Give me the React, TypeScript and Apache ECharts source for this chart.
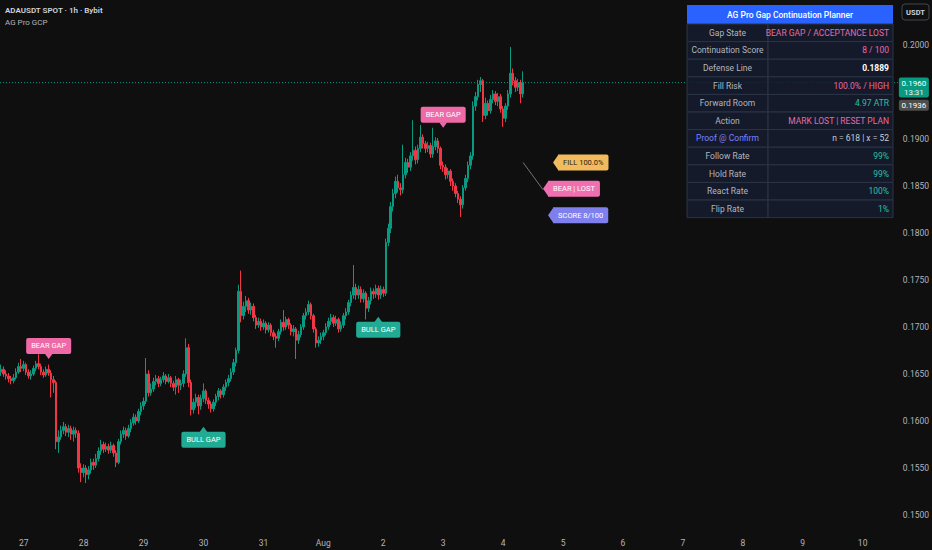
import React, { useEffect, useRef } from 'react';
import * as echarts from 'echarts';

// ---------------- data ----------------
// hourly candles [open, close, low, high], ADAUSDT 1h
const candles: number[][] = [
  [0.1652, 0.1655, 0.1648, 0.1660], [0.1655, 0.1650, 0.1647, 0.1658], [0.1650, 0.1648, 0.1644, 0.1654], [0.1648, 0.1645, 0.1641, 0.1651], [0.1645, 0.1643, 0.1639, 0.1648],
  [0.1643, 0.1646, 0.1640, 0.1650], [0.1646, 0.1652, 0.1644, 0.1656], [0.1652, 0.1658, 0.1650, 0.1662], [0.1658, 0.1656, 0.1652, 0.1666], [0.1656, 0.1660, 0.1653, 0.1664],
  [0.1660, 0.1652, 0.1649, 0.1662], [0.1652, 0.1648, 0.1645, 0.1655], [0.1648, 0.1650, 0.1644, 0.1654], [0.1650, 0.1656, 0.1648, 0.1659], [0.1656, 0.1661, 0.1653, 0.1664],
  [0.1661, 0.1658, 0.1655, 0.1671], [0.1658, 0.1652, 0.1649, 0.1661], [0.1652, 0.1649, 0.1646, 0.1655], [0.1649, 0.1655, 0.1647, 0.1658], [0.1655, 0.1651, 0.1648, 0.1660],
  [0.1651, 0.1644, 0.1625, 0.1654], [0.1644, 0.1641, 0.1630, 0.1648], [0.1641, 0.1578, 0.1570, 0.1643], [0.1578, 0.1583, 0.1566, 0.1590], [0.1583, 0.1590, 0.1580, 0.1595],
  [0.1590, 0.1594, 0.1586, 0.1599], [0.1594, 0.1588, 0.1584, 0.1597], [0.1588, 0.1592, 0.1583, 0.1596], [0.1592, 0.1586, 0.1580, 0.1595], [0.1586, 0.1590, 0.1578, 0.1594],
  [0.1590, 0.1587, 0.1582, 0.1593], [0.1587, 0.1550, 0.1545, 0.1590], [0.1550, 0.1545, 0.1535, 0.1555], [0.1545, 0.1550, 0.1540, 0.1554], [0.1550, 0.1543, 0.1534, 0.1553],
  [0.1543, 0.1548, 0.1538, 0.1552], [0.1548, 0.1556, 0.1544, 0.1560], [0.1556, 0.1553, 0.1548, 0.1560], [0.1553, 0.1560, 0.1550, 0.1565], [0.1560, 0.1568, 0.1557, 0.1572],
  [0.1568, 0.1575, 0.1564, 0.1580], [0.1575, 0.1570, 0.1566, 0.1578], [0.1570, 0.1573, 0.1567, 0.1577], [0.1573, 0.1569, 0.1565, 0.1576], [0.1569, 0.1574, 0.1566, 0.1578],
  [0.1574, 0.1566, 0.1562, 0.1576], [0.1566, 0.1556, 0.1551, 0.1569], [0.1556, 0.1578, 0.1554, 0.1581], [0.1578, 0.1586, 0.1575, 0.1590], [0.1586, 0.1590, 0.1582, 0.1594],
  [0.1590, 0.1584, 0.1580, 0.1593], [0.1584, 0.1592, 0.1582, 0.1596], [0.1592, 0.1598, 0.1588, 0.1602], [0.1598, 0.1604, 0.1595, 0.1608], [0.1604, 0.1600, 0.1596, 0.1607],
  [0.1600, 0.1610, 0.1598, 0.1613], [0.1610, 0.1616, 0.1606, 0.1620], [0.1616, 0.1621, 0.1612, 0.1625], [0.1621, 0.1650, 0.1618, 0.1667], [0.1650, 0.1630, 0.1626, 0.1654],
  [0.1630, 0.1634, 0.1627, 0.1640], [0.1634, 0.1642, 0.1631, 0.1646], [0.1642, 0.1645, 0.1638, 0.1649], [0.1645, 0.1640, 0.1636, 0.1648], [0.1640, 0.1644, 0.1637, 0.1647],
  [0.1644, 0.1648, 0.1641, 0.1652], [0.1648, 0.1642, 0.1639, 0.1650], [0.1642, 0.1646, 0.1640, 0.1650], [0.1646, 0.1640, 0.1636, 0.1648], [0.1640, 0.1636, 0.1632, 0.1643],
  [0.1636, 0.1644, 0.1628, 0.1648], [0.1644, 0.1638, 0.1630, 0.1646], [0.1638, 0.1640, 0.1633, 0.1644], [0.1640, 0.1650, 0.1636, 0.1654], [0.1650, 0.1678, 0.1647, 0.1688],
  [0.1678, 0.1641, 0.1636, 0.1682], [0.1641, 0.1612, 0.1606, 0.1644], [0.1612, 0.1620, 0.1608, 0.1624], [0.1620, 0.1625, 0.1614, 0.1629], [0.1625, 0.1616, 0.1607, 0.1628],
  [0.1616, 0.1624, 0.1612, 0.1628], [0.1624, 0.1632, 0.1620, 0.1640], [0.1632, 0.1622, 0.1618, 0.1634], [0.1622, 0.1618, 0.1613, 0.1625], [0.1618, 0.1613, 0.1609, 0.1621],
  [0.1613, 0.1620, 0.1610, 0.1623], [0.1620, 0.1626, 0.1616, 0.1629], [0.1626, 0.1632, 0.1622, 0.1635], [0.1632, 0.1628, 0.1624, 0.1634], [0.1628, 0.1636, 0.1625, 0.1639],
  [0.1636, 0.1641, 0.1632, 0.1644], [0.1641, 0.1645, 0.1637, 0.1649], [0.1645, 0.1652, 0.1642, 0.1656], [0.1652, 0.1662, 0.1649, 0.1666], [0.1662, 0.1675, 0.1658, 0.1678],
  [0.1675, 0.1738, 0.1672, 0.1745], [0.1738, 0.1712, 0.1705, 0.1760], [0.1712, 0.1722, 0.1708, 0.1727], [0.1722, 0.1728, 0.1716, 0.1733], [0.1728, 0.1718, 0.1714, 0.1731],
  [0.1718, 0.1722, 0.1713, 0.1726], [0.1722, 0.1710, 0.1706, 0.1725], [0.1710, 0.1702, 0.1698, 0.1713], [0.1702, 0.1706, 0.1699, 0.1710], [0.1706, 0.1700, 0.1696, 0.1709],
  [0.1700, 0.1704, 0.1697, 0.1708], [0.1704, 0.1697, 0.1693, 0.1706], [0.1697, 0.1702, 0.1694, 0.1705], [0.1702, 0.1694, 0.1690, 0.1704], [0.1694, 0.1690, 0.1686, 0.1697],
  [0.1690, 0.1688, 0.1678, 0.1693], [0.1688, 0.1695, 0.1685, 0.1698], [0.1695, 0.1705, 0.1692, 0.1708], [0.1705, 0.1700, 0.1696, 0.1718], [0.1700, 0.1708, 0.1697, 0.1711],
  [0.1708, 0.1702, 0.1698, 0.1710], [0.1702, 0.1695, 0.1691, 0.1704], [0.1695, 0.1698, 0.1690, 0.1702], [0.1698, 0.1686, 0.1666, 0.1700], [0.1686, 0.1692, 0.1682, 0.1696],
  [0.1692, 0.1700, 0.1689, 0.1703], [0.1700, 0.1712, 0.1697, 0.1715], [0.1712, 0.1716, 0.1708, 0.1720], [0.1716, 0.1724, 0.1713, 0.1728], [0.1724, 0.1712, 0.1708, 0.1726],
  [0.1712, 0.1698, 0.1694, 0.1714], [0.1698, 0.1683, 0.1678, 0.1700], [0.1683, 0.1686, 0.1679, 0.1690], [0.1686, 0.1690, 0.1682, 0.1694], [0.1690, 0.1694, 0.1686, 0.1697],
  [0.1694, 0.1700, 0.1691, 0.1704], [0.1700, 0.1706, 0.1697, 0.1710], [0.1706, 0.1710, 0.1702, 0.1714], [0.1710, 0.1704, 0.1700, 0.1713], [0.1704, 0.1708, 0.1701, 0.1712],
  [0.1708, 0.1698, 0.1694, 0.1710], [0.1698, 0.1702, 0.1695, 0.1706], [0.1702, 0.1712, 0.1699, 0.1715], [0.1712, 0.1716, 0.1708, 0.1720], [0.1716, 0.1726, 0.1713, 0.1729],
  [0.1726, 0.1734, 0.1722, 0.1738], [0.1734, 0.1742, 0.1730, 0.1766], [0.1742, 0.1734, 0.1729, 0.1746], [0.1734, 0.1740, 0.1730, 0.1744], [0.1740, 0.1730, 0.1726, 0.1743],
  [0.1730, 0.1736, 0.1726, 0.1740], [0.1736, 0.1720, 0.1708, 0.1738], [0.1720, 0.1728, 0.1716, 0.1732], [0.1728, 0.1738, 0.1724, 0.1742], [0.1738, 0.1735, 0.1730, 0.1741],
  [0.1735, 0.1741, 0.1731, 0.1745], [0.1741, 0.1734, 0.1729, 0.1744], [0.1734, 0.1740, 0.1730, 0.1744], [0.1740, 0.1736, 0.1732, 0.1743], [0.1736, 0.1790, 0.1733, 0.1794],
  [0.1790, 0.1805, 0.1786, 0.1810], [0.1805, 0.1828, 0.1800, 0.1833], [0.1828, 0.1842, 0.1823, 0.1847], [0.1842, 0.1855, 0.1837, 0.1860], [0.1855, 0.1848, 0.1843, 0.1862],
  [0.1848, 0.1846, 0.1840, 0.1853], [0.1846, 0.1862, 0.1842, 0.1894], [0.1862, 0.1875, 0.1858, 0.1880], [0.1875, 0.1870, 0.1864, 0.1879], [0.1870, 0.1882, 0.1866, 0.1886],
  [0.1882, 0.1888, 0.1877, 0.1920], [0.1888, 0.1878, 0.1873, 0.1892], [0.1878, 0.1890, 0.1874, 0.1894], [0.1890, 0.1902, 0.1886, 0.1915], [0.1902, 0.1895, 0.1890, 0.1905],
  [0.1895, 0.1890, 0.1885, 0.1898], [0.1890, 0.1893, 0.1886, 0.1897], [0.1893, 0.1884, 0.1880, 0.1896], [0.1884, 0.1892, 0.1880, 0.1912], [0.1892, 0.1898, 0.1888, 0.1902],
  [0.1898, 0.1890, 0.1885, 0.1901], [0.1890, 0.1872, 0.1868, 0.1892], [0.1872, 0.1870, 0.1865, 0.1876], [0.1870, 0.1862, 0.1857, 0.1873], [0.1862, 0.1866, 0.1858, 0.1869],
  [0.1866, 0.1855, 0.1850, 0.1868], [0.1855, 0.1850, 0.1845, 0.1858], [0.1850, 0.1842, 0.1838, 0.1853], [0.1842, 0.1836, 0.1832, 0.1845], [0.1836, 0.1830, 0.1817, 0.1839],
  [0.1830, 0.1848, 0.1826, 0.1851], [0.1848, 0.1858, 0.1845, 0.1862], [0.1858, 0.1872, 0.1854, 0.1876], [0.1872, 0.1882, 0.1868, 0.1886], [0.1882, 0.1935, 0.1878, 0.1940],
  [0.1935, 0.1945, 0.1930, 0.1950], [0.1945, 0.1958, 0.1941, 0.1963], [0.1958, 0.1962, 0.1950, 0.1966], [0.1962, 0.1925, 0.1918, 0.1964], [0.1925, 0.1938, 0.1921, 0.1944],
  [0.1938, 0.1930, 0.1925, 0.1941], [0.1930, 0.1942, 0.1927, 0.1947], [0.1942, 0.1948, 0.1938, 0.1952], [0.1948, 0.1940, 0.1936, 0.1951], [0.1940, 0.1945, 0.1935, 0.1949],
  [0.1945, 0.1932, 0.1928, 0.1948], [0.1932, 0.1922, 0.1913, 0.1935], [0.1922, 0.1935, 0.1918, 0.1938], [0.1935, 0.1948, 0.1931, 0.1952], [0.1948, 0.1970, 0.1944, 0.1998],
  [0.1970, 0.1962, 0.1957, 0.1975], [0.1962, 0.1955, 0.1950, 0.1966], [0.1955, 0.1960, 0.1951, 0.1964], [0.1960, 0.1948, 0.1938, 0.1963], [0.1948, 0.1960, 0.1944, 0.1972],
];

const firstBarUTC = Date.UTC(2025, 6, 26, 15); // Jul 26 15:00
const slotCount = 352; // hourly slots shown (incl. empty future space)
const dayKeys = ['07-27', '07-28', '07-29', '07-30', '07-31', '08-01', '08-02', '08-03', '08-04', '08-05', '08-06', '08-07', '08-08', '08-09', '08-10'];
const dayLabels = ['27', '28', '29', '30', '31', 'Aug', '2', '3', '4', '5', '6', '7', '8', '9', '10'];

// annotation pins: [slot index, price]
const pinSlots = [19, 81, 151, 177, 221, 217, 219];
const pinPrices = [0.1666, 0.1594, 0.1711, 0.1912, 0.1875, 0.1847, 0.1819];
const pinTexts = ['BEAR GAP', 'BULL GAP', 'BULL GAP', 'BEAR GAP', 'FILL 100.0%', 'BEAR | LOST', 'SCORE 8/100'];
const pinKinds = ['bear', 'bull', 'bull', 'bear', 'fill', 'lost', 'score'];

// connector from last bar to status pin
const connector = [[209, 0.1875, 217, 0.1846]];

// price scale tags
const tagPrices = [0.196, 0.1936];
const tagMain = ['0.1960', '0.1936'];
const tagSub = ['13:31', ''];
const tagKinds = ['last', 'ref'];
const lastPrice = 0.196;

// planner table
const tableTitle = 'AG Pro Gap Continuation Planner';
const tableLabels = ['Gap State', 'Continuation Score', 'Defense Line', 'Fill Risk', 'Forward Room', 'Action', 'Proof @ Confirm', 'Follow Rate', 'Hold Rate', 'React Rate', 'Flip Rate'];
const tableValues = ['BEAR GAP / ACCEPTANCE LOST', '8 / 100', '0.1889', '100.0% / HIGH', '4.97 ATR', 'MARK LOST | RESET PLAN', 'n = 618 | x = 52', '99%', '99%', '100%', '1%'];
const tableTones = ['bear', 'bear', 'strong', 'bear', 'bull', 'bear', 'info', 'bull', 'bull', 'bull', 'bull'];

const titleMain = 'ADAUSDT SPOT · 1h · Bybit';
const titleSub = 'AG Pro GCP';
const currencyLabel = 'USDT';

// ---------------- styles ----------------
const FONT = 'Roboto, "Noto Sans", "DejaVu Sans", sans-serif';
const BG = '#0f0f0f';
const UP = '#089981';
const DOWN = '#f23645';
const pinColors: Record<string, string> = { bear: '#ee6aa7', bull: '#22ab94', fill: '#f2bc5e', lost: '#ef6fb0', score: '#7f80ee' };
const pinTextColors: Record<string, string> = { bear: '#ffffff', bull: '#ffffff', fill: '#2a2410', lost: '#ffffff', score: '#ffffff' };
const toneColors: Record<string, string> = { bear: '#ea6aa5', bull: '#2cc0a0', strong: '#ffffff', info: '#c9cbd1' };

function buildCategories(): string[] {
  const out: string[] = [];
  for (let i = 0; i < slotCount; i++) {
    const d = new Date(firstBarUTC + i * 3600000);
    const mm = String(d.getUTCMonth() + 1).padStart(2, '0');
    const dd = String(d.getUTCDate()).padStart(2, '0');
    const hh = String(d.getUTCHours()).padStart(2, '0');
    out.push(`${mm}-${dd} ${hh}`);
  }
  return out;
}

function buildTable(): any[] {
  const x0 = 687, y0 = 5, w1 = 81, w2 = 125, headH = 19, rowH = 17.6;
  const els: any[] = [];
  els.push({ type: 'rect', shape: { x: x0, y: y0, width: w1 + w2, height: headH }, style: { fill: '#2962ff' }, z: 100 });
  els.push({ type: 'text', x: x0 + (w1 + w2) / 2, y: y0 + headH / 2, style: { text: tableTitle, fill: '#ffffff', fontSize: 8.5, fontWeight: 500, fontFamily: FONT, align: 'center', verticalAlign: 'middle' }, z: 101 });
  tableLabels.forEach((lab, k) => {
    const y = y0 + headH + k * rowH;
    els.push({ type: 'rect', shape: { x: x0, y, width: w1, height: rowH }, style: { fill: 'rgba(21,28,46,0.86)', stroke: '#2b3447', lineWidth: 1 }, z: 100 });
    els.push({ type: 'rect', shape: { x: x0 + w1, y, width: w2, height: rowH }, style: { fill: 'rgba(21,28,46,0.86)', stroke: '#2b3447', lineWidth: 1 }, z: 100 });
    const tone = tableTones[k];
    els.push({ type: 'text', x: x0 + w1 / 2, y: y + rowH / 2, style: { text: lab, fill: tone === 'info' ? '#7b82ff' : '#b2b5be', fontSize: 8.5, fontFamily: FONT, align: 'center', verticalAlign: 'middle' }, z: 101 });
    els.push({ type: 'text', x: x0 + w1 + w2 - 4, y: y + rowH / 2, style: { text: tableValues[k], fill: toneColors[tone], fontSize: 8.5, fontWeight: tone === 'strong' ? 'bold' : 'normal', fontFamily: FONT, align: 'right', verticalAlign: 'middle' }, z: 101 });
  });
  return els;
}

export default function App() {
  const ref = useRef<HTMLDivElement>(null);

  useEffect(() => {
    if (!ref.current) return;
    const chart = echarts.init(ref.current, null, { renderer: 'svg' });
    const categories = buildCategories();

    const option: any = {
      animation: false,
      backgroundColor: BG,
      textStyle: { fontFamily: FONT },
      grid: { left: 0, right: 52, top: 0, bottom: 20, containLabel: false },
      xAxis: {
        type: 'category',
        data: categories,
        boundaryGap: true,
        axisLine: { show: false },
        axisTick: { show: false },
        splitLine: { show: false },
        axisLabel: {
          color: '#b2b5be',
          fontSize: 8.5,
          margin: 8,
          interval: (_i: number, v: string) => v.endsWith(' 00'),
          formatter: (v: string) => {
            const k = dayKeys.indexOf(v.slice(0, 5));
            return k >= 0 ? dayLabels[k] : '';
          },
        },
      },
      yAxis: {
        type: 'value',
        position: 'right',
        min: 0.148404,
        max: 0.204787,
        splitNumber: 11,
        minInterval: 0.005,
        maxInterval: 0.005,
        scale: true,
        axisLine: { show: false },
        axisTick: { show: false },
        splitLine: { show: false },
        axisLabel: {
          color: '#b2b5be',
          fontSize: 8.5,
          margin: 24,
          showMinLabel: false,
          showMaxLabel: false,
          formatter: (v: number) => (Math.abs(v - lastPrice) < 0.0015 ? '' : v.toFixed(4)),
        },
      },
      graphic: [
        { type: 'text', x: 5, y: 10, style: { text: titleMain, fill: '#d1d4dc', fontSize: 8, fontWeight: 600, fontFamily: FONT, verticalAlign: 'middle' } },
        { type: 'text', x: 5, y: 22, style: { text: titleSub, fill: '#b2b5be', fontSize: 8, fontFamily: FONT, verticalAlign: 'middle' } },
        { type: 'rect', shape: { x: 902, y: 4, width: 27, height: 16, r: 3 }, style: { fill: BG, stroke: '#434651', lineWidth: 1 } },
        { type: 'text', x: 915.5, y: 12, style: { text: currencyLabel, fill: '#d1d4dc', fontSize: 7.5, fontWeight: 'bold', fontFamily: FONT, align: 'center', verticalAlign: 'middle' } },
        ...buildTable(),
      ],
      series: [
        {
          type: 'candlestick',
          name: 'ADAUSDT',
          data: candles,
          barWidth: 2,
          itemStyle: { color: UP, color0: DOWN, borderColor: UP, borderColor0: DOWN, borderWidth: 1 },
          z: 2,
        },
        {
          type: 'custom',
          name: 'connector',
          data: connector,
          silent: true,
          renderItem: (_p: any, api: any) => {
            const a = api.coord([api.value(0), api.value(1)]);
            const b = api.coord([api.value(2), api.value(3)]);
            return { type: 'line', shape: { x1: a[0], y1: a[1], x2: b[0], y2: b[1] }, style: { stroke: '#8a8d96', lineWidth: 0.8 } };
          },
          z: 3,
        },
        {
          type: 'custom',
          name: 'pins',
          data: pinSlots.map((s, i) => [s, pinPrices[i]]),
          silent: true,
          renderItem: (params: any, api: any) => {
            const i = params.dataIndex;
            const [px, py] = api.coord([api.value(0), api.value(1)]);
            const kind = pinKinds[i];
            const fill = pinColors[kind];
            const txt = { text: pinTexts[i], fill: pinTextColors[kind], fontSize: 7.5, fontFamily: FONT, backgroundColor: fill, borderRadius: 2 };
            if (kind === 'bear') {
              return {
                type: 'group',
                children: [
                  { type: 'polygon', shape: { points: [[px - 4, py - 5.5], [px + 4, py - 5.5], [px, py]] }, style: { fill } },
                  { type: 'text', x: px, y: py - 5, style: { ...txt, align: 'center', verticalAlign: 'bottom', padding: [4, 5, 4, 5] } },
                ],
              };
            }
            if (kind === 'bull') {
              return {
                type: 'group',
                children: [
                  { type: 'polygon', shape: { points: [[px - 4, py + 5.5], [px + 4, py + 5.5], [px, py]] }, style: { fill } },
                  { type: 'text', x: px, y: py + 5, style: { ...txt, align: 'center', verticalAlign: 'top', padding: [4, 5, 4, 5] } },
                ],
              };
            }
            return {
              type: 'group',
              children: [
                { type: 'polygon', shape: { points: [[px, py], [px + 5.5, py - 8], [px + 5.5, py + 8]] }, style: { fill } },
                { type: 'text', x: px + 5, y: py, style: { ...txt, align: 'left', verticalAlign: 'middle', padding: [4, 5, 4, 5], borderRadius: [0, 2, 2, 0] } },
              ],
            };
          },
          z: 5,
        },
        {
          type: 'custom',
          name: 'tags',
          data: tagPrices.map((p) => [candles.length - 1, p]),
          silent: true,
          clip: false,
          renderItem: (params: any, api: any) => {
            const i = params.dataIndex;
            const y = api.coord([api.value(0), api.value(1)])[1];
            const cs = params.coordSys;
            const x0 = cs.x + cs.width + 20;
            const last = tagKinds[i] === 'last';
            const top = last ? y - 5 : y - 5.5;
            const h = last ? 20 : 11;
            const children: any[] = [];
            if (last) {
              children.push({ type: 'line', shape: { x1: cs.x, y1: y, x2: x0, y2: y }, style: { stroke: UP, lineWidth: 1, lineDash: [1, 2] } });
            }
            children.push(
              { type: 'rect', shape: { x: x0, y: top, width: 30, height: h, r: 2 }, style: { fill: last ? UP : '#4e4e4e' } },
              { type: 'text', x: x0 + 15, y: y + 0.5, style: { text: tagMain[i], fill: '#ffffff', fontSize: 8, fontFamily: FONT, align: 'center', verticalAlign: 'middle' } },
            );
            if (tagSub[i]) {
              children.push({ type: 'text', x: x0 + 15, y: y + 9.5, style: { text: tagSub[i], fill: '#e6f5f1', fontSize: 8, fontFamily: FONT, align: 'center', verticalAlign: 'middle' } });
            }
            return { type: 'group', children };
          },
          z: 1,
        },
      ],
    };

    chart.setOption(option);
    return () => chart.dispose();
  }, []);

  return <div ref={ref} style={{ position: 'fixed', left: 0, top: 0, width: 932, height: 550 }} />;
}
